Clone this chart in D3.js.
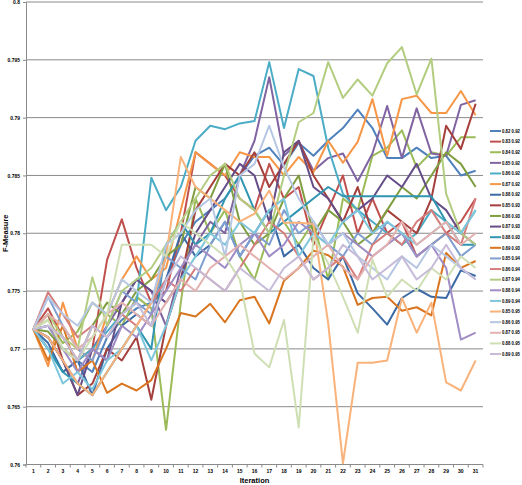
<!DOCTYPE html>
<html>
<head>
<meta charset="utf-8">
<script src="https://cdn.jsdelivr.net/npm/d3@7"></script>
<style>
  body { margin: 0; background: #fff; }
  text { font-family: "Liberation Sans", Arial, sans-serif; }
</style>
</head>
<body>
<div id="chart"></div>
<script>
// iterations 1..31
var iterations = d3.range(1, 32).map(String);

// y axis ticks
var yTicks = [0.76, 0.765, 0.77, 0.775, 0.78, 0.785, 0.79, 0.795, 0.8];

// series names (legend)
var seriesNames = ['0.82 0.92', '0.83 0.92', '0.84 0.92', '0.85 0.92', '0.86 0.92',
                   '0.87 0.92', '0.88 0.92', '0.85 0.93', '0.86 0.93', '0.87 0.93',
                   '0.88 0.93', '0.89 0.93', '0.85 0.94', '0.86 0.94', '0.87 0.94',
                   '0.88 0.94', '0.89 0.94', '0.85 0.95', '0.86 0.95', '0.87 0.95',
                   '0.88 0.95', '0.89 0.95'];

var seriesColors = ['#4f81bd', '#c0504d', '#9bbb59', '#8064a2', '#4bacc6', '#f79646',
                    '#3b6aa6', '#a53f3c', '#7f9e40', '#654d88', '#2f95b0', '#d9751f',
                    '#7f9fd0', '#d47d7b', '#b3cd80', '#a08cc4', '#7ec6db', '#f9b27a',
                    '#b6c7e4', '#e2b1b0', '#cfdfb4', '#c6bbd9'];

// values
var s01 = [0.7717,0.7720,0.7700,0.7690,0.7680,0.7710,0.7725,0.7735,0.7740,0.7760,0.7790,0.7810,0.7820,0.7830,0.7850,0.7867,0.7874,0.7859,0.7878,0.7867,0.7880,0.7891,0.7907,0.7891,0.7865,0.7865,0.7874,0.7865,0.7867,0.7850,0.7854];
var s02 = [0.7717,0.7735,0.7710,0.7690,0.7700,0.7777,0.7812,0.7770,0.7740,0.7750,0.7800,0.7870,0.7860,0.7850,0.7830,0.7820,0.7860,0.7830,0.7840,0.7790,0.7820,0.7850,0.7800,0.7830,0.7800,0.7810,0.7780,0.7790,0.7800,0.7810,0.7830];
var s03 = [0.7717,0.7725,0.7705,0.7715,0.7740,0.7730,0.7720,0.7745,0.7735,0.7630,0.7740,0.7830,0.7800,0.7820,0.7780,0.7760,0.7800,0.7810,0.7790,0.7810,0.7760,0.7830,0.7820,0.7867,0.7874,0.7889,0.7857,0.7870,0.7867,0.7883,0.7883];
var s04 = [0.7717,0.7710,0.7690,0.7670,0.7700,0.7720,0.7740,0.7760,0.7750,0.7720,0.7770,0.7790,0.7810,0.7800,0.7850,0.7880,0.7935,0.7867,0.7879,0.7854,0.7865,0.7869,0.7845,0.7869,0.7910,0.7865,0.7908,0.7869,0.7867,0.7911,0.7915];
var s05 = [0.7717,0.7700,0.7680,0.7690,0.7700,0.7715,0.7730,0.7740,0.7848,0.7820,0.7840,0.7880,0.7893,0.7890,0.7895,0.7897,0.7948,0.7891,0.7942,0.7936,0.7874,0.7834,0.7820,0.7810,0.7800,0.7790,0.7800,0.7820,0.7810,0.7800,0.7820];
var s06 = [0.7717,0.7685,0.7740,0.7700,0.7690,0.7730,0.7760,0.7780,0.7760,0.7770,0.7820,0.7870,0.7860,0.7850,0.7870,0.7866,0.7866,0.7850,0.7866,0.7853,0.7880,0.7861,0.7879,0.7916,0.7867,0.7916,0.7919,0.7904,0.7904,0.7923,0.7902];
var s07 = [0.7717,0.7705,0.7680,0.7690,0.7660,0.7700,0.7720,0.7730,0.7720,0.7760,0.7800,0.7780,0.7790,0.7810,0.7780,0.7800,0.7820,0.7780,0.7790,0.7770,0.7760,0.7780,0.7748,0.7735,0.7721,0.7744,0.7752,0.7745,0.7744,0.7768,0.7763];
var s08 = [0.7717,0.7730,0.7690,0.7660,0.7670,0.7700,0.7690,0.7710,0.7656,0.7720,0.7760,0.7820,0.7840,0.7860,0.7850,0.7870,0.7840,0.7860,0.7880,0.7850,0.7830,0.7810,0.7840,0.7800,0.7820,0.7810,0.7800,0.7830,0.7893,0.7873,0.7912];
var s09 = [0.7717,0.7715,0.7700,0.7690,0.7720,0.7740,0.7730,0.7750,0.7760,0.7780,0.7790,0.7840,0.7830,0.7860,0.7810,0.7790,0.7800,0.7830,0.7850,0.7800,0.7820,0.7810,0.7790,0.7800,0.7820,0.7840,0.7830,0.7850,0.7870,0.7860,0.7840];
var s10 = [0.7717,0.7710,0.7690,0.7660,0.7700,0.7690,0.7740,0.7760,0.7750,0.7740,0.7760,0.7800,0.7820,0.7840,0.7860,0.7850,0.7810,0.7870,0.7880,0.7840,0.7830,0.7810,0.7820,0.7830,0.7850,0.7840,0.7860,0.7830,0.7820,0.7800,0.7790];
var s11 = [0.7717,0.7700,0.7680,0.7670,0.7660,0.7680,0.7700,0.7720,0.7700,0.7790,0.7810,0.7790,0.7800,0.7830,0.7850,0.7820,0.7800,0.7810,0.7820,0.7830,0.7840,0.7832,0.7832,0.7832,0.7832,0.7832,0.7832,0.7832,0.7810,0.7790,0.7790];
var s12 = [0.7717,0.7690,0.7720,0.7680,0.7690,0.7662,0.7670,0.7664,0.7673,0.7700,0.7731,0.7728,0.7739,0.7723,0.7742,0.7745,0.7722,0.7759,0.7770,0.7785,0.7781,0.7771,0.7738,0.7744,0.7745,0.7733,0.7736,0.7729,0.7783,0.7770,0.7776];
var s13 = [0.7717,0.7745,0.7720,0.7700,0.7690,0.7720,0.7750,0.7740,0.7730,0.7780,0.7770,0.7760,0.7790,0.7810,0.7780,0.7800,0.7790,0.7820,0.7800,0.7810,0.7790,0.7780,0.7800,0.7790,0.7810,0.7800,0.7780,0.7790,0.7800,0.7780,0.7790];
var s14 = [0.7717,0.7749,0.7730,0.7710,0.7720,0.7710,0.7730,0.7720,0.7740,0.7760,0.7750,0.7770,0.7760,0.7750,0.7770,0.7790,0.7810,0.7800,0.7780,0.7760,0.7770,0.7780,0.7760,0.7790,0.7800,0.7790,0.7810,0.7820,0.7800,0.7790,0.7830];
var s15 = [0.7717,0.7730,0.7710,0.7700,0.7762,0.7720,0.7750,0.7760,0.7770,0.7790,0.7810,0.7830,0.7850,0.7860,0.7830,0.7820,0.7800,0.7850,0.7896,0.7904,0.7948,0.7917,0.7933,0.7919,0.7947,0.7961,0.7920,0.7951,0.7834,0.7800,0.7790];
var s16 = [0.7717,0.7720,0.7700,0.7680,0.7700,0.7690,0.7720,0.7710,0.7730,0.7750,0.7770,0.7790,0.7780,0.7770,0.7790,0.7800,0.7780,0.7790,0.7810,0.7800,0.7790,0.7800,0.7790,0.7780,0.7790,0.7800,0.7780,0.7790,0.7770,0.7708,0.7714];
var s17 = [0.7717,0.7700,0.7670,0.7680,0.7665,0.7690,0.7700,0.7720,0.7690,0.7720,0.7760,0.7780,0.7800,0.7790,0.7810,0.7800,0.7820,0.7830,0.7780,0.7800,0.7790,0.7810,0.7820,0.7800,0.7810,0.7800,0.7790,0.7800,0.7810,0.7800,0.7820];
var s18 = [0.7717,0.7710,0.7690,0.7670,0.7660,0.7680,0.7700,0.7720,0.7740,0.7780,0.7866,0.7840,0.7830,0.7820,0.7810,0.7817,0.7837,0.7809,0.7809,0.7808,0.7722,0.7601,0.7688,0.7688,0.7690,0.7744,0.7714,0.7740,0.7671,0.7664,0.7690];
var s19 = [0.7717,0.7745,0.7730,0.7720,0.7740,0.7730,0.7760,0.7750,0.7740,0.7790,0.7800,0.7820,0.7830,0.7780,0.7850,0.7860,0.7893,0.7857,0.7830,0.7810,0.7790,0.7800,0.7780,0.7770,0.7760,0.7780,0.7770,0.7790,0.7780,0.7770,0.7760];
var s20 = [0.7717,0.7730,0.7720,0.7700,0.7710,0.7730,0.7740,0.7730,0.7720,0.7740,0.7760,0.7750,0.7770,0.7780,0.7790,0.7780,0.7770,0.7760,0.7770,0.7780,0.7790,0.7770,0.7760,0.7780,0.7790,0.7810,0.7790,0.7800,0.7810,0.7790,0.7800];
var s21 = [0.7717,0.7725,0.7700,0.7690,0.7710,0.7730,0.7790,0.7790,0.7790,0.7780,0.7810,0.7800,0.7790,0.7780,0.7760,0.7696,0.7684,0.7725,0.7632,0.7797,0.7774,0.7745,0.7714,0.7777,0.7745,0.7760,0.7750,0.7770,0.7760,0.7780,0.7770];
var s22 = [0.7717,0.7720,0.7710,0.7690,0.7720,0.7710,0.7730,0.7740,0.7720,0.7760,0.7780,0.7770,0.7760,0.7750,0.7770,0.7760,0.7750,0.7770,0.7780,0.7760,0.7770,0.7790,0.7780,0.7760,0.7770,0.7780,0.7760,0.7770,0.7790,0.7770,0.7760];

var seriesValues = [s01, s02, s03, s04, s05, s06, s07, s08, s09, s10, s11,
                    s12, s13, s14, s15, s16, s17, s18, s19, s20, s21, s22];

/**
 * draw the whole chart.
 */
function drawChart() {

    var width = 522, height = 485;
    // plot area box
    var left = 26, right = 483, top = 2, bottom = 464.5;

    var svg = d3.select('#chart').append('svg')
        .attr('width', width)
        .attr('height', height);

    var x = d3.scalePoint()
        .domain(iterations)
        .range([left, right])
        .padding(0.5);
    var step = x.step();

    var y = d3.scaleLinear()
        .domain([0.76, 0.8])
        .range([bottom, top]);

    // horizontal grid lines
    svg.append('g')
        .selectAll('line')
        .data(yTicks.slice(1))
        .enter().append('line')
        .attr('x1', left)
        .attr('x2', right)
        .attr('y1', function(d) { return y(d); })
        .attr('y2', function(d) { return y(d); })
        .attr('stroke', '#8a8a8a')
        .attr('stroke-width', 1);

    // y axis
    var yAxis = d3.axisLeft(y)
        .tickValues(yTicks)
        .tickSize(3)
        .tickFormat(function(d) { return String(+d.toFixed(3)); });
    var gy = svg.append('g')
        .attr('transform', 'translate(' + left + ',0)')
        .call(yAxis);
    gy.select('.domain').attr('stroke', '#8a8a8a');
    gy.selectAll('.tick line').attr('stroke', '#8a8a8a');
    gy.selectAll('text')
        .attr('x', -6)
        .style('font-size', '5px')
        .style('font-weight', 'bold')
        .attr('fill', '#000');

    // x axis: labels at points, ticks between categories
    var gx = svg.append('g')
        .attr('transform', 'translate(0,' + bottom + ')');
    gx.append('line')
        .attr('x1', left).attr('x2', right)
        .attr('stroke', '#8a8a8a');
    gx.selectAll('line.tk')
        .data(d3.range(0, iterations.length + 1))
        .enter().append('line')
        .attr('class', 'tk')
        .attr('x1', function(i) { return left + i * step; })
        .attr('x2', function(i) { return left + i * step; })
        .attr('y1', 0).attr('y2', 3)
        .attr('stroke', '#8a8a8a');
    gx.selectAll('text')
        .data(iterations)
        .enter().append('text')
        .attr('x', function(d) { return x(d); })
        .attr('y', 8.5)
        .attr('text-anchor', 'middle')
        .style('font-size', '5px')
        .style('font-weight', 'bold')
        .text(function(d) { return d; });

    // lines, first series at the bottom
    var line = d3.line()
        .x(function(d, i) { return x(iterations[i]); })
        .y(function(d) { return y(d); });

    svg.append('g')
        .selectAll('path')
        .data(seriesValues)
        .enter().append('path')
        .attr('d', line)
        .attr('fill', 'none')
        .attr('stroke', function(d, i) { return seriesColors[i]; })
        .attr('stroke-width', 2)
        .attr('stroke-linejoin', 'round');

    // axis titles
    svg.append('text')
        .attr('transform', 'translate(8,' + ((top + bottom) / 2) + ') rotate(-90)')
        .attr('text-anchor', 'middle')
        .style('font-size', '7.5px')
        .style('font-weight', 'bold')
        .text('F-Measure');
    svg.append('text')
        .attr('x', (left + right) / 2)
        .attr('y', 483)
        .attr('text-anchor', 'middle')
        .style('font-size', '7.5px')
        .style('font-weight', 'bold')
        .text('Iteration');

    // legend
    var legend = svg.append('g')
        .attr('transform', 'translate(490,131)');
    var rows = legend.selectAll('g')
        .data(seriesNames)
        .enter().append('g')
        .attr('transform', function(d, i) { return 'translate(0,' + (i * 10.62) + ')'; });
    rows.append('line')
        .attr('x1', 0).attr('x2', 11)
        .attr('stroke', function(d, i) { return seriesColors[i]; })
        .attr('stroke-width', 2);
    // squeeze the labels so they fit in the narrow column
    rows.append('text')
        .attr('x', 12)
        .attr('y', 1.7)
        .attr('textLength', 18)
        .attr('lengthAdjust', 'spacingAndGlyphs')
        .style('font-size', '4.6px')
        .style('font-weight', 'bold')
        .text(function(d) { return d; });
}

drawChart();
</script>
</body>
</html>
